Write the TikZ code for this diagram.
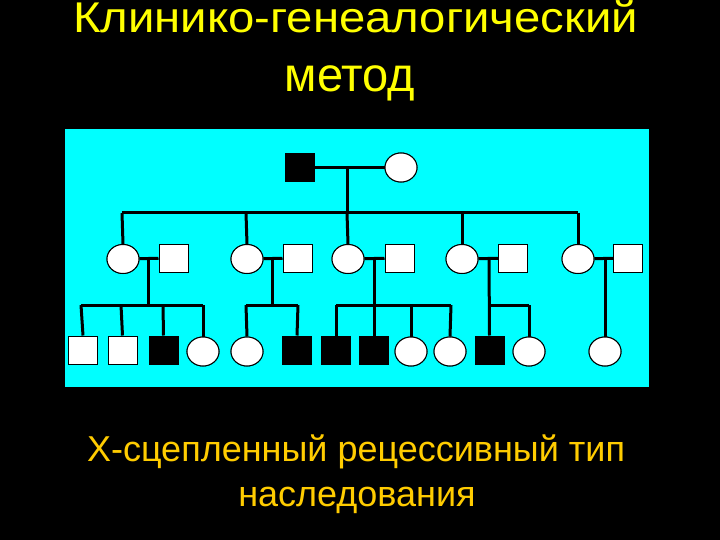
\documentclass[tikz,border=0pt]{standalone}
\usepackage{fontspec}
\setmainfont{Liberation Sans}
\usetikzlibrary{shapes.geometric}
\definecolor{ttl}{RGB}{255,255,0}
\definecolor{sub}{RGB}{255,204,0}
\definecolor{bg}{RGB}{0,255,255}
\begin{document}
\begin{tikzpicture}[x=1pt,y=-1pt,
  male/.style={draw=black,line width=1pt,fill=white,minimum width=29pt,minimum height=28pt,inner sep=0pt,rectangle},
  amale/.style={male,fill=black},
  female/.style={draw=black,line width=1pt,fill=white,ellipse,minimum width=32pt,minimum height=29pt,inner sep=0pt},
  link/.style={draw=black,line width=3pt},
  ttlbase/.style={text=ttl,inner sep=0pt,anchor=base},
  subfont/.style={text=sub,font=\fontsize{36}{44}\selectfont,inner sep=0pt,anchor=base}]
\fill[black] (0,0) rectangle (720,540);
\useasboundingbox (0,0) rectangle (720,540);
\fill[bg] (65,129) rectangle (649,387);

% titles
\node[ttlbase,font=\fontsize{43}{50}\selectfont] (t1) at (355.5,33) {\scalebox{1.1}[1]{Клинико-генеалогический}};
\node[ttlbase,font=\fontsize{48}{56}\selectfont] (t2) at (350,91.5) {\scalebox{0.98}[1]{метод}};
\node[subfont] (b1) at (356,461) {Х-сцепленный рецессивный тип};
\node[subfont] (b2) at (357,506) {наследования};

% generation I
\node[amale] (p1) at (299.5,167.5) {};
\node[female] (p2) at (401,167.5) {};
% generation II
\node[female] (a1) at (123,259) {};
\node[male] (a2) at (173.5,258) {};
\node[female] (b1n) at (247,259) {};
\node[male] (b2n) at (297.5,258) {};
\node[female] (c1) at (348,259) {};
\node[male] (c2) at (399.5,258) {};
\node[female] (d1) at (462,259) {};
\node[male] (d2) at (513,258) {};
\node[female] (e1) at (578,259) {};
\node[male] (e2) at (628,258) {};
% generation III
\node[male] (k1) at (83,350) {};
\node[male] (k2) at (122.5,350) {};
\node[amale] (k3) at (163.5,350) {};
\node[female] (k4) at (203,351.5) {};
\node[female] (k5) at (247,351.5) {};
\node[amale] (k6) at (297,350) {};
\node[amale] (k7) at (336,350) {};
\node[amale] (k8) at (374,350) {};
\node[female] (k9) at (411,351.5) {};
\node[female] (k10) at (450,351.5) {};
\node[amale] (k11) at (489.5,350) {};
\node[female] (k12) at (529,351.5) {};
\node[female] (k13) at (605,351.5) {};

% junction coordinates
\coordinate (m0) at (347,167.5);
\coordinate (s0) at (347,213);
\coordinate (s0l) at (122,213);
\coordinate (s0r) at (578,213);
\coordinate (ma) at (148,259);
\coordinate (sa) at (148,305);
\coordinate (sal) at (81,305);
\coordinate (sar) at (203,305);
\coordinate (mb) at (272,259);
\coordinate (sb) at (272,305);
\coordinate (sbl) at (246,305);
\coordinate (sbr) at (298,305);
\coordinate (mc) at (374,259);
\coordinate (sc) at (374,305);
\coordinate (scl) at (336,305);
\coordinate (scr) at (451,305);
\coordinate (md) at (489,259);
\coordinate (sd) at (489,305);
\coordinate (sdr) at (529,305);
\coordinate (me) at (605,259);

% generation I
\draw[link] (p1) -- (p2);
\draw[link] (m0) -- (s0);
\draw[link] (s0l) -- (s0r);
\draw[link] (s0l) -- (a1.north);
\draw[link] (246,213) -- (b1n.north);
\draw[link] (s0) -- (c1.north);
\draw[link] (462,213) -- (d1.north);
\draw[link] (s0r) -- (e1.north);
% couples
\draw[link] (a1) -- (a2);
\draw[link] (b1n) -- (b2n);
\draw[link] (c1) -- (c2);
\draw[link] (d1) -- (d2);
\draw[link] (e1) -- (e2);
% family a
\draw[link] (ma) -- (sa);
\draw[link] (sal) -- (sar);
\draw[link] (sal) -- (k1.north);
\draw[link] (121,305) -- (k2.north);
\draw[link] (163,305) -- (k3.north);
\draw[link] (sar) -- (k4.north);
% family b
\draw[link] (mb) -- (sb);
\draw[link] (sbl) -- (sbr);
\draw[link] (sbl) -- (k5.north);
\draw[link] (sbr) -- (k6.north);
% family c
\draw[link] (mc) -- (sc);
\draw[link] (scl) -- (scr);
\draw[link] (scl) -- (k7.north);
\draw[link] (sc) -- (k8.north);
\draw[link] (411,305) -- (k9.north);
\draw[link] (scr) -- (k10.north);
% family d
\draw[link] (md) -- (k11.north);
\draw[link] (sd) -- (sdr);
\draw[link] (sdr) -- (k12.north);
% family e
\draw[link] (me) -- (k13.north);
% redraw symbols on top of connectors
\foreach \n in {p1,k3,k6,k7,k8,k11}{\node[amale] at (\n) {};}
\foreach \n in {a2,b2n,c2,d2,e2,k1,k2}{\node[male] at (\n) {};}
\foreach \n in {p2,a1,b1n,c1,d1,e1,k4,k5,k9,k10,k12,k13}{\node[female] at (\n) {};}
\end{tikzpicture}
\end{document}
